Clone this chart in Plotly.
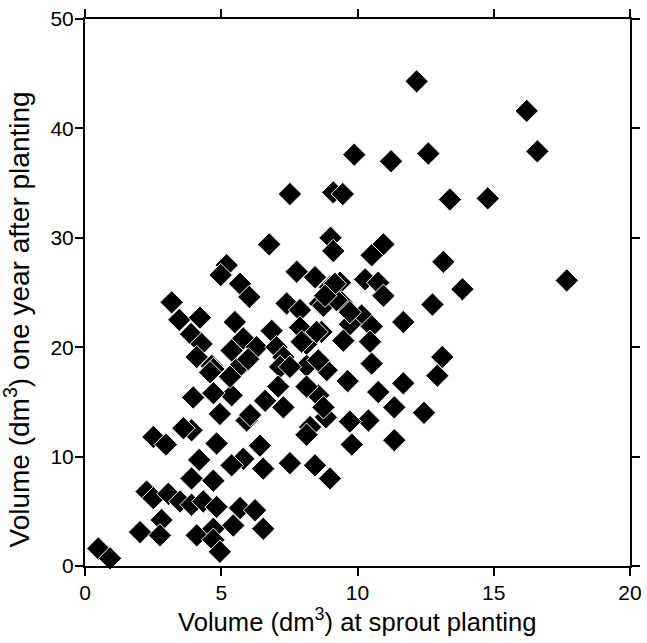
import plotly.graph_objects as go

# Volume at sprout planting (dm3)
x_planting = [
    12.17, 16.21, 12.6, 16.6, 13.39, 14.78, 9.88, 11.23, 9.11, 9.46,
    7.52, 13.15, 13.85, 12.75, 17.68, 13.11, 12.93, 12.44, 9.01, 9.11,
    10.95, 10.52, 6.76, 8.44, 9.36, 10.28, 10.76, 8.62, 9.42, 10.95,
    10.15, 10.52, 11.68, 9.72, 8.68, 9.48, 10.46, 10.52, 8.87, 9.64,
    11.68, 10.76, 8.56, 11.35, 8.84, 8.26, 10.40, 9.79, 11.35, 8.44,
    8.99, 8.13, 5.20, 4.98, 5.69, 6.03, 7.77, 3.18, 3.46, 4.22,
    3.89, 4.28, 4.10, 4.65, 7.40, 7.89, 5.50, 6.85, 7.89, 5.81,
    6.30, 5.38, 7.03, 7.28, 5.81, 8.13, 8.75, 9.23, 9.72, 7.95,
    8.50, 5.57, 4.71, 7.16, 8.13, 5.38, 4.71, 3.97, 7.09, 8.13,
    6.61, 7.28, 4.95, 5.93, 8.75, 9.72, 3.91, 4.83, 6.42, 5.81,
    5.38, 6.54, 7.52, 5.69, 6.24, 5.44, 6.54, 4.59, 5.32, 2.51,
    2.97, 4.19, 3.91, 4.71, 2.26, 2.51, 3.06, 3.49, 3.91, 4.34,
    4.83, 2.02, 2.81, 2.75, 4.10, 4.71, 4.71, 4.95, 0.49, 0.92,
    3.61, 8.99, 7.52, 8.56, 9.17, 5.99, 6.06, 8.81,
]

# Volume one year after planting (dm3)
y_one_year = [
    44.3, 41.6, 37.7, 37.9, 33.5, 33.6, 37.6, 37.0, 34.15, 34.0,
    34.0, 27.8, 25.3, 23.9, 26.1, 19.1, 17.4, 14.0, 30.0, 28.8,
    29.4, 28.4, 29.4, 26.4, 25.9, 26.2, 25.9, 24.0, 24.1, 24.7,
    22.9, 21.9, 22.3, 22.1, 21.4, 20.6, 20.5, 18.5, 17.9, 16.9,
    16.7, 15.9, 15.6, 14.5, 13.6, 12.7, 13.3, 11.1, 11.5, 9.2,
    8.0, 12.0, 27.5, 26.6, 25.8, 24.6, 26.9, 24.1, 22.5, 22.7,
    21.2, 20.3, 19.1, 18.3, 24.0, 23.4, 22.3, 21.5, 21.8, 20.8,
    20.0, 19.7, 20.0, 19.1, 18.5, 20.3, 23.8, 24.3, 23.2, 20.5,
    21.4, 18.0, 18.0, 18.2, 18.3, 15.6, 15.8, 15.4, 16.4, 16.4,
    15.1, 14.5, 13.9, 13.3, 14.5, 13.2, 12.4, 11.2, 11.0, 9.8,
    9.2, 8.9, 9.4, 5.3, 5.1, 3.7, 3.4, 17.7, 17.3, 11.8,
    11.1, 9.7, 8.0, 7.8, 6.8, 6.2, 6.6, 5.9, 5.6, 5.9,
    5.4, 3.1, 4.2, 2.8, 2.8, 3.4, 2.4, 1.3, 1.6, 0.7,
    12.6, 25.5, 18.2, 18.8, 25.8, 18.9, 13.8, 24.7,
]

x_ticks = [0, 5, 10, 15, 20]
y_ticks = [0, 10, 20, 30, 40, 50]
x_title = "Volume (dm<sup>3</sup>) at sprout planting"
y_title = "Volume (dm<sup>3</sup>) one year after planting"

fig = go.Figure(
    go.Scatter(
        x=x_planting,
        y=y_one_year,
        mode="markers",
        marker=dict(symbol="diamond", size=18, color="black",
                    line=dict(color="white", width=1)),
        cliponaxis=False,
        showlegend=False,
    )
)

font = dict(family="Liberation Sans", color="black")

axis_common = dict(
    showgrid=False,
    zeroline=False,
    showline=True,
    linecolor="black",
    linewidth=2,
    mirror="ticks",
    ticks="outside",
    ticklen=8,
    tickwidth=2,
    tickcolor="black",
    tickfont=dict(size=21, **font),
    ticklabeloverflow="allow",
    automargin=False,
)

fig.update_xaxes(range=[0, 20], tickvals=x_ticks, ticklabelstandoff=-1, **axis_common)
fig.update_yaxes(range=[0, 50], tickvals=y_ticks, ticklabelstandoff=-3, **axis_common)

fig.add_annotation(
    text=x_title, xref="paper", yref="paper", x=0.5, y=-0.0987,
    xanchor="center", yanchor="middle", showarrow=False,
    font=dict(size=25.6, **font),
)
fig.add_annotation(
    text=y_title, xref="paper", yref="paper", x=-0.1239, y=0.4516,
    xanchor="center", yanchor="middle", showarrow=False, textangle=-90,
    font=dict(size=28, **font),
)

fig.update_layout(
    width=647,
    height=643,
    margin=dict(l=85, r=17, t=19, b=77),
    plot_bgcolor="white",
    paper_bgcolor="white",
    font=font,
)

# remove the browser's default 8px body margin so the figure fills the window
fig.write_html("out.html",
               config={"displayModeBar": False},
               post_script="document.body.style.margin='0';document.body.style.overflow='hidden';")
